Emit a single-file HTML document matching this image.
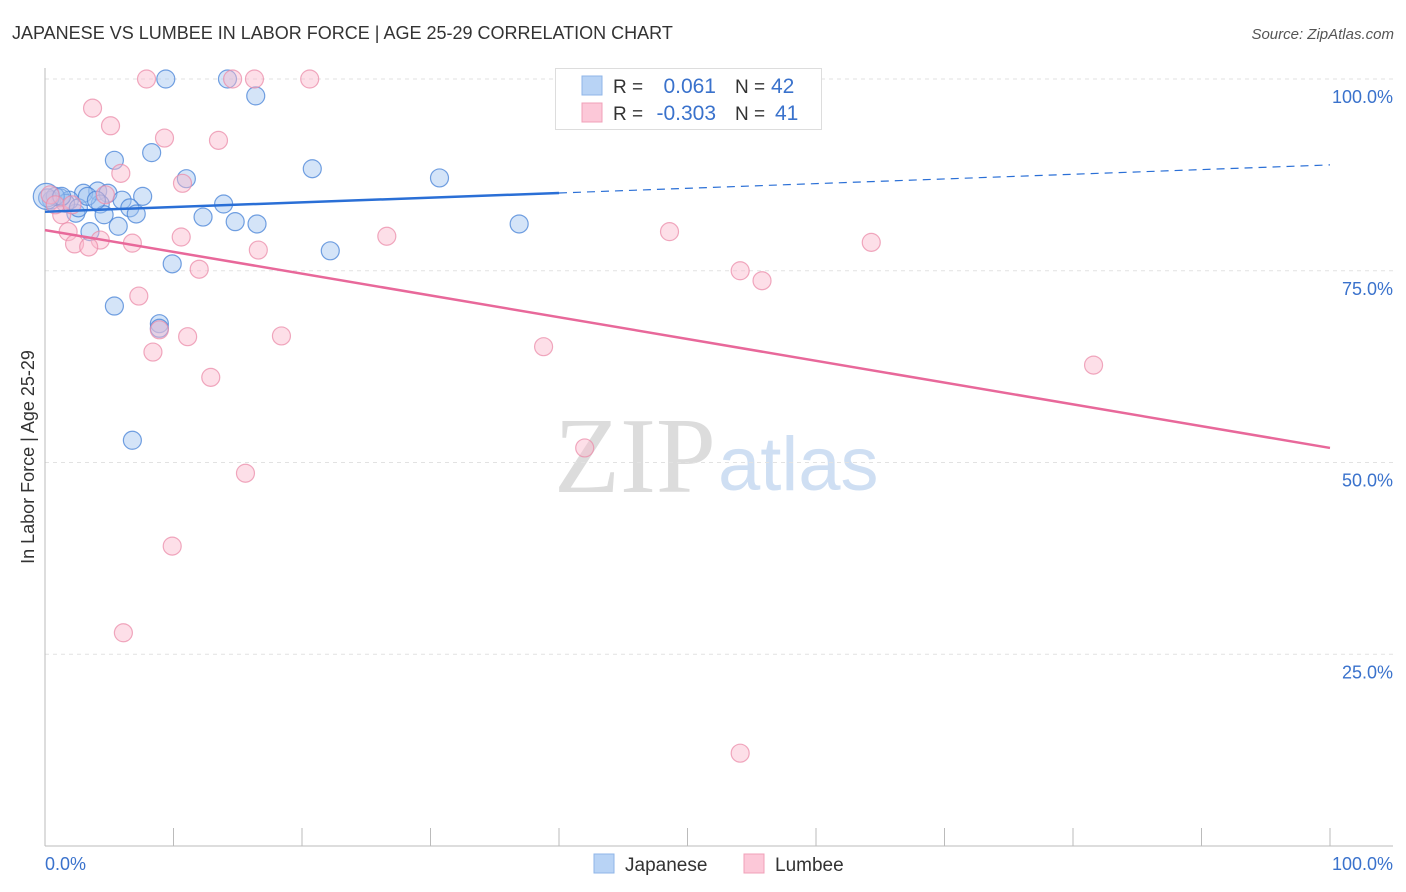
<!DOCTYPE html>
<html><head><meta charset="utf-8">
<style>
body{margin:0;background:#fff;font-family:"Liberation Sans",sans-serif;}
svg{display:block}
</style></head>
<body>
<svg id="chart" width="1406" height="892">
<text x="12" y="39" font-size="18" fill="#333">JAPANESE VS LUMBEE IN LABOR FORCE | AGE 25-29 CORRELATION CHART</text>
<text x="1394" y="39" font-size="15" fill="#555" font-style="italic" text-anchor="end">Source: ZipAtlas.com</text>
<text x="716" y="492" font-size="108" font-family="Liberation Serif,serif" fill="#dcdcdc" text-anchor="end">ZIP</text>
<text x="718" y="490" font-size="76" fill="#cfdff3">atlas</text>
<text transform="translate(34,457) rotate(-90)" font-size="18" fill="#333" text-anchor="middle">In Labor Force | Age 25-29</text>
<g id="grid"></g><g id="pts"></g><g id="lines"></g>
<g>
<rect x="555.5" y="68.5" width="266" height="61" fill="#fff" stroke="#ddd"/>
<rect x="582" y="76" width="20" height="19" fill="#b8d3f5" stroke="#8fb6e8"/>
<rect x="582" y="103" width="20" height="19" fill="#fcc8d8" stroke="#f0a0b8"/>
<text x="613" y="93" font-size="19" fill="#333">R =</text>
<text x="716" y="93" font-size="21" fill="#3a72cc" text-anchor="end">0.061</text>
<text x="735" y="93" font-size="19" fill="#333">N =</text>
<text x="771" y="93" font-size="21" fill="#3a72cc">42</text>
<text x="613" y="120" font-size="19" fill="#333">R =</text>
<text x="716" y="120" font-size="21" fill="#3a72cc" text-anchor="end">-0.303</text>
<text x="735" y="120" font-size="19" fill="#333">N =</text>
<text x="775" y="120" font-size="21" fill="#3a72cc">41</text>
</g>
<g>
<rect x="594" y="854" width="20" height="19" fill="#b8d3f5" stroke="#8fb6e8"/>
<text x="625" y="871" font-size="19" fill="#333">Japanese</text>
<rect x="744" y="854" width="20" height="19" fill="#fcc8d8" stroke="#f0a0b8"/>
<text x="775" y="871" font-size="19" fill="#333">Lumbee</text>
</g>
<text x="45" y="870" font-size="18" fill="#3a72cc">0.0%</text>
<text x="1393" y="870" font-size="18" fill="#3a72cc" text-anchor="end">100.0%</text>
</svg>
<script>
const yTicks=[100,75,50,25];
const yTickLabels=["100.0%","75.0%","50.0%","25.0%"];
const japX=[9.4,14.2,16.4,8.3,5.4,11.0,20.8,30.7,7.6,4.1,4.9,3.0,6.0,4.3,6.6,7.1,4.6,2.4,1.2,0.5,1.9,1.6,0.8,0.2,13.9,12.3,14.8,16.5,5.7,3.5,36.9,22.2,9.9,5.4,8.9,8.9,6.8,2.6,0.1,1.3,3.3,4.0];
const japY=[100,100,97.8,90.4,89.4,87.0,88.3,87.1,84.7,85.4,85.1,85.1,84.2,83.7,83.2,82.4,82.3,82.5,84.5,84.2,84.2,83.8,84.7,84.5,83.7,82.0,81.4,81.1,80.8,80.1,81.1,77.6,75.9,70.4,68.1,67.5,52.9,83.2,84.7,84.7,84.7,84.2];
const lumX=[7.9,14.6,16.3,20.6,3.7,5.1,9.3,13.5,5.9,10.7,4.7,1.3,1.8,4.3,2.3,6.8,3.4,10.6,16.6,26.6,48.6,64.3,12.0,54.1,55.8,7.3,11.1,18.4,8.9,8.4,38.8,81.6,12.9,42.0,15.6,9.9,6.1,54.1,0.4,0.8,2.1];
const lumY=[100,100,100,100,96.2,93.9,92.3,92.0,87.7,86.4,84.9,82.3,80.1,79.0,78.5,78.6,78.1,79.4,77.7,79.5,80.1,78.7,75.2,75.0,73.7,71.7,66.4,66.5,67.3,64.4,65.1,62.7,61.1,51.9,48.6,39.1,27.8,12.1,84.9,83.6,83.6];
const japTrend=[82.7,88.8];
const lumTrend=[80.3,51.9];
const NS="http://www.w3.org/2000/svg";
const X=v=>45+v*12.85, Y=v=>846-v*7.67;
function mk(t,a,p){const e=document.createElementNS(NS,t);for(const k in a)e.setAttribute(k,a[k]);p.appendChild(e);return e;}
const grid=document.getElementById('grid');
yTicks.forEach((t,i)=>{
 const l=mk('line',{x1:45,x2:1393,y1:Y(t),y2:Y(t),stroke:'#e2e2e2','stroke-dasharray':'4,4'},grid);
 
 
 const tx=mk('text',{x:1393,y:Y(t)+24,'font-size':18,fill:'#3a72cc','text-anchor':'end'},grid);
 tx.textContent=yTickLabels[i];
 
 
});
const ax=mk('line',{x1:45,x2:45,y1:68,y2:846,stroke:'#bbb'},grid);


const bx=mk('line',{x1:45,x2:1393,y1:846,y2:846,stroke:'#bbb'},grid);


for(let i=0;i<=10;i++){const t=mk('line',{x1:X(i*10),x2:X(i*10),y1:828,y2:846,stroke:'#bbb'},grid);
 
 }
const pts=document.getElementById('pts');
japX.forEach((x,i)=>{const c=mk('circle',{cx:X(x),cy:Y(japY[i]),r:(i==38?13:9),fill:'rgba(160,196,240,0.45)',stroke:'rgba(70,130,215,0.75)','stroke-width':1.2},pts);
 
 });
lumX.forEach((x,i)=>{const c=mk('circle',{cx:X(x),cy:Y(lumY[i]),r:9,fill:'rgba(250,185,205,0.45)',stroke:'rgba(235,140,170,0.75)','stroke-width':1.2},pts);
 
 });
const lines=document.getElementById('lines');
const jAt=v=>japTrend[0]+(japTrend[1]-japTrend[0])*v/100;
let l1=mk('line',{x1:X(0),y1:Y(jAt(0)),x2:X(40),y2:Y(jAt(40)),stroke:'#2a6fd6','stroke-width':2.5},lines);


let l2=mk('line',{x1:X(40),y1:Y(jAt(40)),x2:X(100),y2:Y(jAt(100)),stroke:'#2a6fd6','stroke-width':1.2,'stroke-dasharray':'8,6'},lines);


let l3=mk('line',{x1:X(0),y1:Y(lumTrend[0]),x2:X(100),y2:Y(lumTrend[1]),stroke:'#e8689a','stroke-width':2.5},lines);


</script>
</body></html>
